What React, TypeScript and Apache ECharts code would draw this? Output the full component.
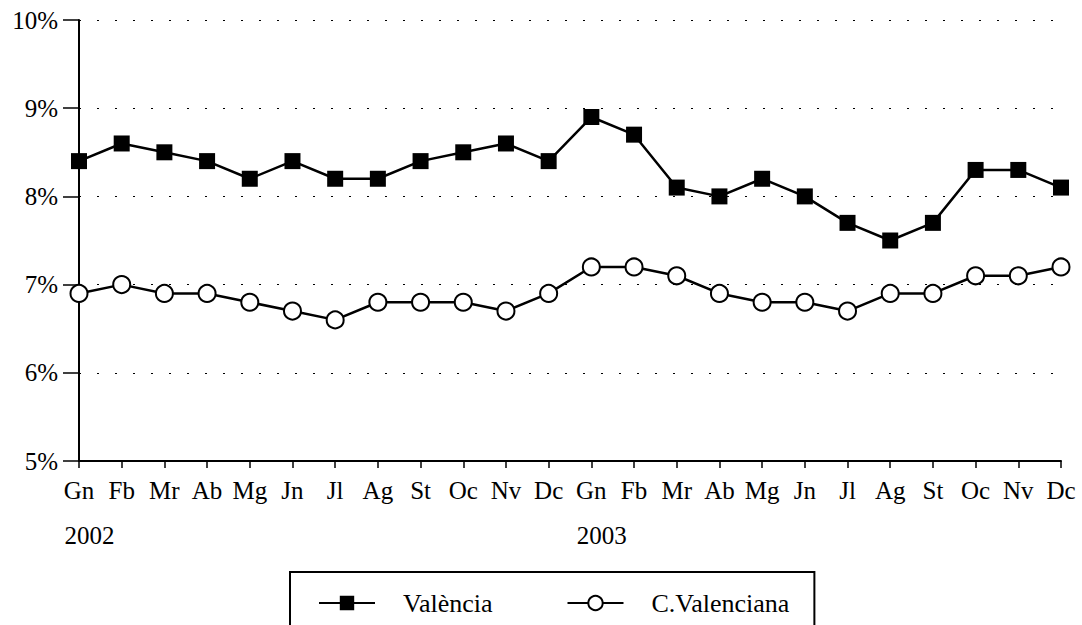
import React, { useEffect, useRef } from "react";
import * as echarts from "echarts";

const months = ["Gn", "Fb", "Mr", "Ab", "Mg", "Jn", "Jl", "Ag", "St", "Oc", "Nv", "Dc", "Gn", "Fb", "Mr", "Ab", "Mg", "Jn", "Jl", "Ag", "St", "Oc", "Nv", "Dc"];
const years: Record<number, string> = { 0: "2002", 12: "2003" };
const valencia = [8.4, 8.6, 8.5, 8.4, 8.2, 8.4, 8.2, 8.2, 8.4, 8.5, 8.6, 8.4, 8.9, 8.7, 8.1, 8.0, 8.2, 8.0, 7.7, 7.5, 7.7, 8.3, 8.3, 8.1];
const cValenciana = [6.9, 7.0, 6.9, 6.9, 6.8, 6.7, 6.6, 6.8, 6.8, 6.8, 6.7, 6.9, 7.2, 7.2, 7.1, 6.9, 6.8, 6.8, 6.7, 6.9, 6.9, 7.1, 7.1, 7.2];

const FONT = "Liberation Serif";

export default function App() {
  const ref = useRef<HTMLDivElement>(null);
  useEffect(() => {
    if (!ref.current) return;
    const chart = echarts.init(ref.current, undefined, { renderer: "svg" });
    chart.setOption({
      animation: false,
      backgroundColor: "#fff",
      textStyle: { fontFamily: FONT, color: "#000" },
      grid: { left: 79, right: 21, top: 20, bottom: 164 },
      legend: {
        left: 290,
        top: 572,
        padding: [18, 25, 40, 28],
        borderColor: "#000",
        borderWidth: 2,
        itemWidth: 56,
        itemHeight: 18,
        itemGap: 74,
        textStyle: {
          fontFamily: FONT,
          fontSize: 26,
          lineHeight: 26,
          color: "#000",
          padding: [0, 0, 0, 23],
        },
        data: ["València", "C.Valenciana"],
      },
      xAxis: {
        type: "category",
        data: months,
        boundaryGap: false,
        axisLine: { lineStyle: { color: "#000", width: 2 } },
        axisTick: { show: true, length: 7, lineStyle: { color: "#000", width: 1.5 }, interval: 0 },
        axisLabel: {
          interval: 0,
          margin: 6,
          color: "#000",
          fontFamily: FONT,
          fontSize: 25,
          formatter: (v: string, i: number) =>
            years[i] ? `{m|${v}}\n{y|${years[i]}}` : `{m|${v}}\n{y| }`,
          rich: {
            m: { fontFamily: FONT, fontSize: 25, color: "#000", lineHeight: 46 },
            y: { fontFamily: FONT, fontSize: 25, color: "#000", lineHeight: 44, padding: [0, 0, 0, 21] },
          },
        },
        splitLine: { show: false },
      },
      yAxis: {
        type: "value",
        min: 5,
        max: 10,
        interval: 1,
        axisLine: { show: true, lineStyle: { color: "#000", width: 2 } },
        axisTick: { show: true, length: 16, lineStyle: { color: "#000", width: 1.5 } },
        axisLabel: {
          margin: 21,
          color: "#000",
          fontFamily: FONT,
          fontSize: 25,
          formatter: "{value}%",
        },
        splitLine: {
          show: true,
          lineStyle: { color: "#000", width: 1, type: [2, 16] },
        },
      },
      series: [
        {
          name: "València",
          type: "line",
          data: valencia,
          symbol: "rect",
          symbolSize: 16,
          lineStyle: { color: "#000", width: 2.5 },
          itemStyle: { color: "#000", borderColor: "#000", borderWidth: 0 },
          z: 3,
        },
        {
          name: "C.Valenciana",
          type: "line",
          data: cValenciana,
          symbol: "circle",
          symbolSize: 17,
          lineStyle: { color: "#000", width: 2.5 },
          itemStyle: { color: "#fff", borderColor: "#000", borderWidth: 2 },
          z: 3,
        },
      ],
    });
    return () => chart.dispose();
  }, []);
  return (
    <div
      ref={ref}
      style={{ position: "fixed", left: 0, top: 0, width: 1082, height: 625 }}
    />
  );
}
